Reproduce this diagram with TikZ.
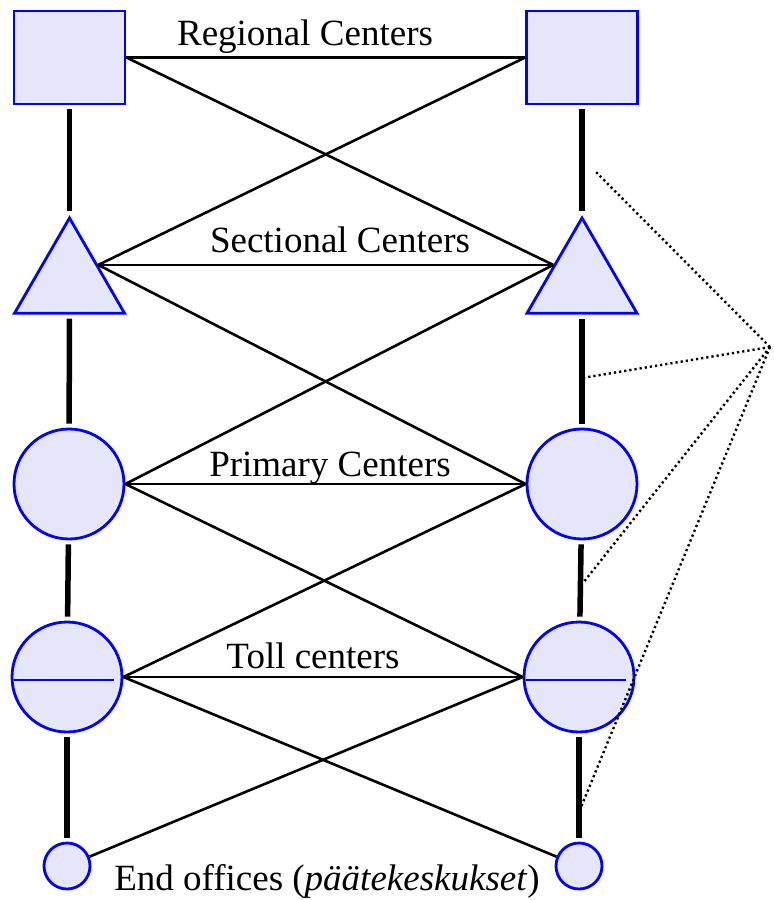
\documentclass[tikz,border=0pt]{standalone}
\usepackage{fontspec}
\setmainfont{Liberation Serif}
\usetikzlibrary{shapes.geometric}
\definecolor{officefill}{RGB}{230,230,250}
\begin{document}
\begin{tikzpicture}
[x=1pt,y=-1pt,
  officedecorate/.style={draw=blue,fill=officefill,line width=2.8pt,inner sep=0pt},%
  squaredecorate/.style={officedecorate,shape=rectangle,minimum width=111pt,minimum height=93pt},%
  triangledecorate/.style={officedecorate,shape=regular polygon,regular polygon sides=3,minimum size=127pt},%
  circledecorate/.style={officedecorate,shape=circle,minimum size=110pt},%
  enddecorate/.style={officedecorate,shape=circle,minimum size=46pt},%
  linedecorate/.style={-,line width=2.6pt},%
  trunkdecorate/.style={-,line width=5.5pt,shorten <=4pt,shorten >=4pt},%
  notedecorate/.style={-,line width=2.4pt,dash pattern=on 2.2pt off 3pt},%
  labeldecorate/.style={anchor=base,font=\fontsize{37}{42}\selectfont}]
\useasboundingbox (0,0) rectangle (774,900);
% nodes or vertices
\node (regionalL) at (69.5,57.5) [squaredecorate] {};
\node (regionalR) at (582,57.5) [squaredecorate] {};
\node (sectionalL) at (69.5,281.5) [triangledecorate] {};
\node (sectionalR) at (582,281.5) [triangledecorate] {};
\node (primaryL) at (69,484) [circledecorate] {};
\node (primaryR) at (582,484) [circledecorate] {};
\node (tollL) at (67,677) [circledecorate] {};
\node (tollR) at (579,677) [circledecorate] {};
\node (endL) at (67,866) [enddecorate] {};
\node (endR) at (579,866) [enddecorate] {};
\draw[blue,line width=2.8pt] ([xshift=3pt,yshift=-3pt]tollL.west) -- ([xshift=-9pt,yshift=-3pt]tollL.east);
\draw[blue,line width=2.8pt] ([xshift=3pt,yshift=-3pt]tollR.west) -- ([xshift=-9pt,yshift=-3pt]tollR.east);
% labels
\node (regionallabel) at (305,45) [labeldecorate] {Regional Centers};
\node (sectionallabel) at (340,252) [labeldecorate] {Sectional Centers};
\node (primarylabel) at (330,476) [labeldecorate] {Primary Centers};
\node (tolllabel) at (313,668) [labeldecorate] {Toll centers};
\node (endlabel) at (327,890) [labeldecorate] {End offices (\textit{päätekeskukset})};
% edges or lines
\path
(regionalL.east) edge[linedecorate] (regionalR.west)
(regionalL.east) edge[linedecorate] (sectionalR.side 1)
(regionalR.west) edge[linedecorate] (sectionalL.side 3)
(sectionalL.side 3) edge[linedecorate] (sectionalR.side 1)
(sectionalL.side 3) edge[linedecorate] (primaryR.west)
(sectionalR.side 1) edge[linedecorate] (primaryL.east)
(primaryL.east) edge[linedecorate] (primaryR.west)
(primaryL.east) edge[linedecorate] (tollR.west)
(primaryR.west) edge[linedecorate] (tollL.east)
(tollL.east) edge[linedecorate] (tollR.west)
(tollL.east) edge[linedecorate] (endR)
(tollR.west) edge[linedecorate] (endL);
% trunks
\path
(regionalL) edge[trunkdecorate] (sectionalL)
(sectionalL) edge[trunkdecorate] (primaryL)
(primaryL) edge[trunkdecorate] (tollL)
(tollL) edge[trunkdecorate] (endL)
(regionalR) edge[trunkdecorate] (sectionalR)
(sectionalR) edge[trunkdecorate] (primaryR)
(primaryR) edge[trunkdecorate] (tollR)
(tollR) edge[trunkdecorate] (endR);
% dotted pointers
\coordinate (note) at (770,347);
\coordinate (noteA) at (596,172);
\coordinate (noteB) at (582,378);
\coordinate (noteC) at (583,583);
\coordinate (noteD) at (577,817);
\path
(note) edge[notedecorate] (noteA)
(note) edge[notedecorate] (noteB)
(note) edge[notedecorate] (noteC)
(note) edge[notedecorate] (noteD);
\end{tikzpicture}
\end{document}
